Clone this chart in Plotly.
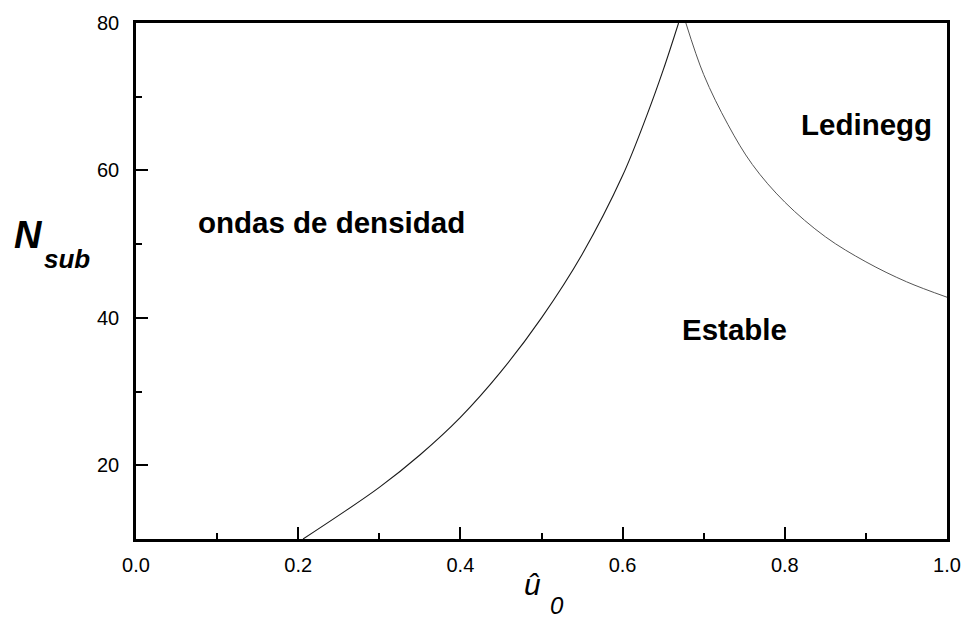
import plotly.graph_objects as go

# Left branch (density waves boundary)
left_u = [0.206, 0.25, 0.30, 0.35, 0.40, 0.45, 0.50, 0.55, 0.60, 0.63, 0.65, 0.669]
left_n = [10.0, 13.2, 17.0, 21.4, 26.5, 32.7, 40.0, 48.6, 59.3, 67.5, 73.6, 80.0]
# Right branch (Ledinegg boundary)
right_u = [0.678, 0.70, 0.73, 0.76, 0.80, 0.85, 0.90, 0.95, 1.000]
right_n = [80.0, 73.0, 66.2, 60.8, 55.7, 51.0, 47.6, 44.9, 42.8]

x_ticks = [0.0, 0.2, 0.4, 0.6, 0.8, 1.0]
x_ticklabels = ["0.0", "0.2", "0.4", "0.6", "0.8", "1.0"]
y_ticks = [20, 40, 60, 80]
y_ticklabels = ["20", "40", "60", "80"]

regions = ["ondas de densidad", "Estable", "Ledinegg"]
region_x = [0.2406, 0.7375, 0.9013]
region_y = [53.0, 38.4, 66.2]

FONT = "Liberation Sans, Arial, sans-serif"

fig = go.Figure()
fig.add_trace(go.Scatter(x=left_u, y=left_n, mode="lines",
                         line=dict(color="#1a1a1a", width=1.1, shape="spline", smoothing=1.0),
                         showlegend=False))
fig.add_trace(go.Scatter(x=right_u, y=right_n, mode="lines",
                         line=dict(color="#555555", width=1.0, shape="spline", smoothing=1.0),
                         showlegend=False))

for t, xx, yy in zip(regions, region_x, region_y):
    fig.add_annotation(x=xx, y=yy, text="<b>%s</b>" % t, showarrow=False,
                       font=dict(family=FONT, size=29.5, color="black"), xref="x", yref="y")

axis_common = dict(showline=True, linecolor="black", linewidth=2.5, mirror=True,
                   ticks="inside", tickcolor="black", tickwidth=2, ticklen=12,
                   showgrid=False, zeroline=False,
                   tickfont=dict(family=FONT, size=20, color="black"))

fig.update_xaxes(range=[0, 1], tickvals=x_ticks, ticktext=x_ticklabels,
                 ticklabelstandoff=6,
                 minor=dict(ticks="inside", dtick=0.1, ticklen=6, tickwidth=2, tickcolor="black"),
                 **axis_common)
fig.update_yaxes(range=[10, 80], tickvals=y_ticks, ticktext=y_ticklabels,
                 ticklabelstandoff=10,
                 minor=dict(ticks="inside", dtick=10, tick0=10, ticklen=6, tickwidth=2, tickcolor="black"),
                 **axis_common)

# Axis titles
fig.add_annotation(xref="paper", yref="paper", x=0.4884, y=-0.0881, xanchor="center", yanchor="middle",
                   text="<i>û</i>", showarrow=False,
                   font=dict(family=FONT, size=30, color="black"))
fig.add_annotation(xref="paper", yref="paper", x=0.5185, y=-0.1295, xanchor="center", yanchor="middle",
                   text="<i>0</i>", showarrow=False,
                   font=dict(family=FONT, size=24, color="black"))
fig.add_annotation(xref="paper", yref="paper", x=-0.1535, y=0.5887, xanchor="left", yanchor="middle",
                   text="<b><i>N</i></b>", showarrow=False,
                   font=dict(family=FONT, size=38, color="black"))
fig.add_annotation(xref="paper", yref="paper", x=-0.1157, y=0.542, xanchor="left", yanchor="middle",
                   text="<b><i>sub</i></b>", showarrow=False,
                   font=dict(family=FONT, size=26, color="black"))

fig.update_layout(width=973, height=619, margin=dict(l=136, r=16, t=17, b=80),
                  plot_bgcolor="white", paper_bgcolor="white")

fig.write_html("out.html")
